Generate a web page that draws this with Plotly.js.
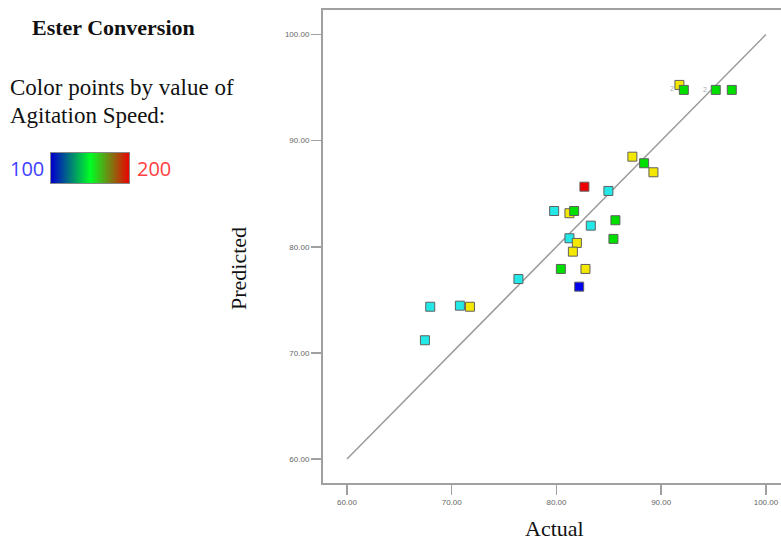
<!DOCTYPE html>
<html>
<head>
<meta charset="utf-8">
<script src="https://cdn.plot.ly/plotly-3.0.1.min.js"></script>
<style>html,body{margin:0;padding:0;background:#fff;overflow:hidden}#chart{width:781px;height:543px}</style>
</head>
<body>
<div id="chart"></div>
<script>
// Actual vs Predicted Ester Conversion, coloured by Agitation Speed
const actual = [91.74, 92.16, 95.21, 96.74, 87.25, 88.37, 89.26, 82.67, 84.96, 79.78, 81.24, 81.69, 83.28,
  85.63, 81.24, 81.95, 81.57, 85.44, 80.42, 82.77, 82.17, 76.37, 67.95, 70.78, 71.74, 67.44];
const predicted = [95.25, 94.78, 94.78, 94.78, 88.49, 87.87, 87.02, 85.66, 85.26, 83.37, 83.16, 83.37, 81.99,
  82.50, 80.80, 80.36, 79.54, 80.74, 77.91, 77.91, 76.24, 76.96, 74.35, 74.45, 74.35, 71.19];
const agitationSpeed = [175, 150, 150, 150, 175, 150, 175, 200, 125, 125, 175, 150, 125,
  150, 125, 175, 175, 150, 150, 175, 100, 125, 125, 125, 175, 125];
const lineX = [60, 100];
const lineY = [60, 100];
const xTicks = [60, 70, 80, 90, 100];
const yTicks = [60, 70, 80, 90, 100];
const tickLabels = ['60.00', '70.00', '80.00', '90.00', '100.00'];
const gradientLevels = [100, 200];

const pointScale = [[0, '#0000ee'], [0.25, '#22e8e8'], [0.5, '#00e000'], [0.75, '#f4e800'], [1, '#ee0000']];
const barScale = [[0, '#0000cc'], [0.5, '#00ff22'], [1, '#ee0000']];

const traces = [
  {x: lineX, y: lineY, mode: 'lines', type: 'scatter', line: {color: '#9a9a9a', width: 1.5}, hoverinfo: 'skip'},
  {x: actual, y: predicted, mode: 'markers', type: 'scatter',
   marker: {symbol: 'square', size: 9, color: agitationSpeed, cmin: 100, cmax: 200, colorscale: pointScale,
            line: {color: '#606060', width: 1}}},
  {type: 'heatmap', z: [gradientLevels], x: [0, 1], y: [0], xaxis: 'x2', yaxis: 'y2',
   colorscale: barScale, zmin: 100, zmax: 200, zsmooth: 'best', showscale: false, hoverinfo: 'skip'}
];

const serif = 'Liberation Serif, Times New Roman, serif';
const tickFont = {family: 'Liberation Sans, Arial, sans-serif', size: 8, color: '#666'};
const layout = {
  width: 781, height: 543,
  margin: {l: 0, r: 0, t: 10, b: 60},
  paper_bgcolor: '#fff', plot_bgcolor: '#fff',
  showlegend: false,
  xaxis: {domain: [323/781, 1], range: [57.71, 101.44], tickvals: xTicks, ticktext: tickLabels,
          showgrid: false, zeroline: false, showline: true, mirror: true, linecolor: '#a0a0a0', linewidth: 2,
          ticks: 'outside', ticklen: 10, tickcolor: '#a0a0a0', tickwidth: 1.5, tickfont: tickFont},
  yaxis: {domain: [0, 1], range: [57.74, 102.31], tickvals: yTicks, ticktext: tickLabels,
          showgrid: false, zeroline: false, showline: true, linecolor: '#a0a0a0', linewidth: 2,
          ticks: 'outside', ticklen: 10, tickcolor: '#a0a0a0', tickwidth: 1.5, tickfont: tickFont},
  xaxis2: {domain: [51/781, 129/781], range: [0, 1], anchor: 'y2', visible: true, showticklabels: false,
           ticks: '', showgrid: false, zeroline: false, showline: true, mirror: true, linecolor: '#888', linewidth: 1},
  yaxis2: {domain: [(483-183)/473, (483-153)/473], range: [-0.5, 0.5], anchor: 'x2', showticklabels: false,
           ticks: '', showgrid: false, zeroline: false, showline: true, mirror: true, linecolor: '#888', linewidth: 1},
  annotations: [
    {xref: 'paper', yref: 'paper', x: 113/781, y: (483-28)/473, text: '<b>Ester Conversion</b>', showarrow: false,
     font: {family: serif, size: 22, color: '#111'}, xanchor: 'center', yanchor: 'middle'},
    {xref: 'paper', yref: 'paper', x: 8/781, y: (483-88)/473, text: 'Color points by value of', showarrow: false,
     font: {family: serif, size: 23, color: '#111'}, xanchor: 'left', yanchor: 'middle'},
    {xref: 'paper', yref: 'paper', x: 8/781, y: (483-116)/473, text: 'Agitation Speed:', showarrow: false,
     font: {family: serif, size: 23, color: '#111'}, xanchor: 'left', yanchor: 'middle'},
    {xref: 'paper', yref: 'paper', x: 8/781, y: (483-168)/473, text: '100', showarrow: false,
     font: {family: 'Open Sans, DejaVu Sans, sans-serif', size: 20, color: '#4040ff'}, xanchor: 'left', yanchor: 'middle'},
    {xref: 'paper', yref: 'paper', x: 135/781, y: (483-168)/473, text: '200', showarrow: false,
     font: {family: 'Open Sans, DejaVu Sans, sans-serif', size: 20, color: '#ff4040'}, xanchor: 'left', yanchor: 'middle'},
    {xref: 'paper', yref: 'paper', x: 238/781, y: (483-268)/473, text: 'Predicted', showarrow: false, textangle: -90,
     font: {family: serif, size: 22, color: '#111'}, xanchor: 'center', yanchor: 'middle'},
    {xref: 'paper', yref: 'paper', x: 554/781, y: -45/473, text: 'Actual', showarrow: false,
     font: {family: serif, size: 22, color: '#111'}, xanchor: 'center', yanchor: 'middle'},
    {x: 91.04, y: 94.95, text: '2', showarrow: false, font: {family: 'Liberation Sans, Arial, sans-serif', size: 7, color: '#aaa'}},
    {x: 94.19, y: 94.85, text: '2', showarrow: false, font: {family: 'Liberation Sans, Arial, sans-serif', size: 7, color: '#aaa'}}
  ]
};

Plotly.newPlot('chart', traces, layout, {displayModeBar: false, staticPlot: true});
</script>
</body>
</html>
